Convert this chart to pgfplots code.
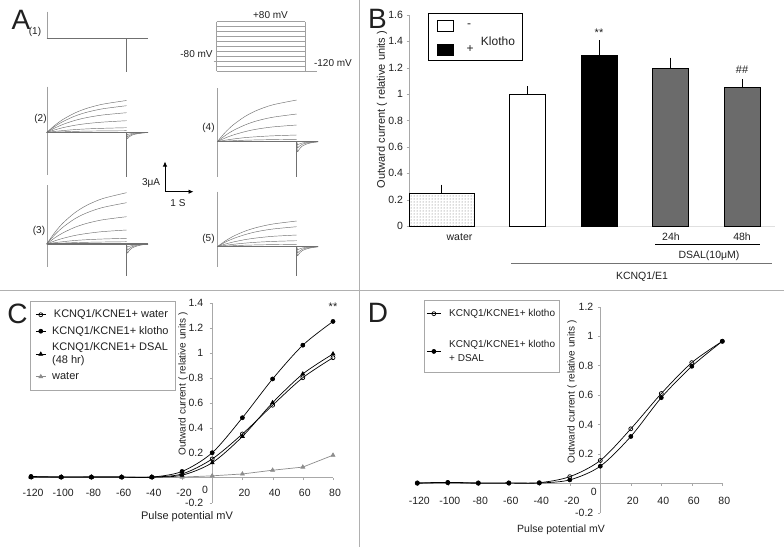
\documentclass[border=0pt]{standalone}
\usepackage{fontspec}
\setmainfont{Liberation Sans}
\usepackage{pgfplots}
\usepackage{pgfplotstable}
\pgfplotsset{compat=1.18}
\usetikzlibrary{patterns,arrows.meta}
\definecolor{tr}{HTML}{707070}
\definecolor{trl}{HTML}{A0A0A0}
\definecolor{divc}{HTML}{B0B0B0}
\definecolor{axg}{HTML}{A8A8A8}
\definecolor{barg}{HTML}{6B6B6B}
\definecolor{txt}{HTML}{202020}
\definecolor{wgray}{HTML}{8C8C8C}
\newcommand{\fs}[2]{\fontsize{#1}{#2}\selectfont}

\pgfplotstableread{
x a b c d e f
46.7 132.5 132.5 132.5 132.5 132.5 132.5
54.7 125.4 126.5 128.1 129.9 131.4 132.1
62.7 119.6 121.7 124.5 127.7 130.6 131.8
74.6 113.1 116.2 120.5 125.3 129.6 131.4
86.6 108.4 112.3 117.6 123.6 128.9 131.1
102.6 104.2 108.8 115.0 122.1 128.3 130.9
126.5 100.5 105.7 112.7 120.7 127.7 130.7
}\Ttwo
\pgfplotstableread{
x a b c d e f
46.7 244 244 244 244 244 244
54.7 232.6 234.8 237.9 240.9 242.7 243.5
62.7 223.3 227.4 233.0 238.4 241.7 243.1
74.6 212.9 218.9 227.4 235.5 240.5 242.6
86.6 205.4 212.9 223.4 233.5 239.7 242.3
102.6 198.6 207.5 219.8 231.6 239.0 242.0
126.5 192.7 202.7 216.7 230.0 238.3 241.7
}\Tthree
\pgfplotstableread{
x a b c d e
217.3 141.7 141.7 141.7 141.7 141.7
225.2 132.4 135.5 138.0 140.2 141.2
233.2 124.9 130.5 135.0 139.0 140.7
245.1 116.4 124.9 131.6 137.6 140.2
257.0 110.3 120.8 129.1 136.7 139.9
272.9 104.8 117.2 126.9 135.8 139.6
296.7 100.0 114.0 125.0 135.0 139.3
}\Tfour
\pgfplotstableread{
x a b c d e
217.3 246.7 246.7 246.7 246.7 246.7
225.2 241.0 242.2 244.1 245.4 246.2
233.2 236.3 238.6 242.0 244.3 245.7
245.1 231.1 234.6 239.6 243.1 245.2
257.0 227.4 231.6 237.9 242.2 244.9
272.9 224.0 229.0 236.3 241.4 244.6
296.7 221.0 226.7 235.0 240.7 244.3
}\Tfive
\pgfplotstableread{
mv water klotho dsal
-120 0.005 0.01 0.005
-100 0.005 0.005 0.005
-80 0.005 0.005 0.005
-60 0.005 0.005 0.005
-40 0.005 0.005 0.005
-20 0.03 0.05 0.02
0 0.15 0.2 0.12
20 0.35 0.48 0.33
40 0.58 0.79 0.6
60 0.8 1.06 0.83
80 0.96 1.25 0.99
}\Cdata
\pgfplotstableread{
mv klotho dsal
-120 0.003 0.0
-100 0.006 0.004
-80 0.003 0.0
-60 0.003 0.001
-40 0.004 0.002
-20 0.045 0.023
0 0.155 0.116
20 0.37 0.318
40 0.61 0.582
60 0.82 0.795
80 0.965 0.965
}\Ddata

\begin{document}
\begin{tikzpicture}
\path[use as bounding box] (0pt,0pt) rectangle (784pt,-547pt);
\fill[white] (0pt,0pt) rectangle (784pt,-547pt);
\draw[divc, line width=1pt] (359pt,0pt) -- (359pt,-547pt);
\draw[divc, line width=1pt] (0pt,-290pt) -- (784pt,-290pt);

% ---------------- Panel A ----------------
\begin{axis}[at={(0pt,0pt)}, anchor=north west, scale only axis,
  width=359pt, height=290pt, xmin=0, xmax=359, ymin=0, ymax=290,
  y dir=reverse, hide axis, clip=false]
% (1)
\addplot[trl, line width=0.4pt] coordinates {(46.7,11.7)(46.7,38.3)};
\addplot[tr, line width=1.3pt] coordinates {(46.7,38.3)(148,38.3)};
\addplot[tr, line width=0.5pt] coordinates {(126.5,38.3)(126.5,71.7)};
% (2)
\addplot[trl, line width=0.4pt] coordinates {(46.7,86.7)(46.7,175)};
\pgfplotsinvokeforeach{a,b,c,d,e,f}{\addplot[tr, line width=0.45pt, smooth] table[x=x,y=#1]{\Ttwo};}
\addplot[tr, line width=1.4pt] coordinates {(46.7,132.5)(148,132.5)};
\addplot[tr, line width=0.5pt] coordinates {(126.5,132.5)(126.5,176.7)};
\addplot[tr, line width=0.45pt, smooth] coordinates {(126.5,132.5)(127.3,138.5)(129,137.0)(132,135.1)(137,133.8)(143,132.9)(148,132.6)};
\addplot[tr, line width=0.45pt, smooth] coordinates {(126.5,132.5)(127.3,136.5)(129,135.6)(132,134.3)(137,133.4)(143,132.8)(148,132.5)};
\addplot[tr, line width=0.45pt, smooth] coordinates {(126.5,132.5)(127.3,134.5)(129,134.1)(132,133.5)(137,133.0)(143,132.7)(148,132.5)};
% (3)
\addplot[trl, line width=0.4pt] coordinates {(46.7,185)(46.7,266.7)};
\pgfplotsinvokeforeach{a,b,c,d,e,f}{\addplot[tr, line width=0.45pt, smooth] table[x=x,y=#1]{\Tthree};}
\addplot[tr, line width=1.4pt] coordinates {(46.7,244)(148,244)};
\addplot[tr, line width=0.5pt] coordinates {(126.5,244)(126.5,276)};
\addplot[tr, line width=0.45pt, smooth] coordinates {(126.5,244)(127.3,253)(129,250.8)(132,248)(137,246)(143,244.7)(148,244.1)};
\addplot[tr, line width=0.45pt, smooth] coordinates {(126.5,244)(127.3,250)(129,248.6)(132,246.8)(137,245.3)(143,244.4)(148,244)};
\addplot[tr, line width=0.45pt, smooth] coordinates {(126.5,244)(127.3,247)(129,246.4)(132,245.5)(137,244.7)(143,244.2)(148,244)};
% (4)
\addplot[trl, line width=0.4pt] coordinates {(217.3,88.3)(217.3,176.7)};
\pgfplotsinvokeforeach{a,b,c,d,e}{\addplot[tr, line width=0.45pt, smooth] table[x=x,y=#1]{\Tfour};}
\addplot[tr, line width=1.4pt] coordinates {(217.3,141.7)(318.3,141.7)};
\addplot[tr, line width=0.5pt] coordinates {(296.7,141.7)(296.7,176.7)};
\addplot[tr, line width=0.45pt, smooth] coordinates {(296.7,141.7)(297.5,151.7)(299.2,149.3)(302.2,146.1)(307.2,143.8)(313.2,142.4)(318.2,141.8)};
\addplot[tr, line width=0.45pt, smooth] coordinates {(296.7,141.7)(297.5,147.7)(299.2,146.3)(302.2,144.3)(307.2,142.9)(313.2,142.1)(318.2,141.7)};
\addplot[tr, line width=0.45pt, smooth] coordinates {(296.7,141.7)(297.5,144.7)(299.2,144.0)(302.2,143.0)(307.2,142.3)(313.2,141.9)(318.2,141.7)};
% (5)
\addplot[trl, line width=0.4pt] coordinates {(217.3,191.7)(217.3,266.7)};
\pgfplotsinvokeforeach{a,b,c,d,e}{\addplot[tr, line width=0.45pt, smooth] table[x=x,y=#1]{\Tfive};}
\addplot[tr, line width=1.4pt] coordinates {(217.3,246.7)(318.3,246.7)};
\addplot[tr, line width=0.5pt] coordinates {(296.7,246.7)(296.7,276)};
\addplot[tr, line width=0.45pt, smooth] coordinates {(296.7,246.7)(297.5,255.7)(299.2,253.5)(302.2,250.7)(307.2,248.7)(313.2,247.4)(318.2,246.8)};
\addplot[tr, line width=0.45pt, smooth] coordinates {(296.7,246.7)(297.5,252.7)(299.2,251.3)(302.2,249.3)(307.2,247.9)(313.2,247.1)(318.2,246.7)};
\addplot[tr, line width=0.45pt, smooth] coordinates {(296.7,246.7)(297.5,249.7)(299.2,249.0)(302.2,248.0)(307.2,247.3)(313.2,246.9)(318.2,246.7)};
% voltage protocol
\pgfplotsinvokeforeach{21.7,26.6,31.6,36.5,41.4,46.4,51.3,56.2,61.1,66.1,71.0}{\addplot[trl, line width=0.5pt] coordinates {(216.7,#1)(305,#1)};}
\addplot[trl, line width=0.5pt] coordinates {(216.7,21.7)(216.7,71)};
\addplot[trl, line width=0.5pt] coordinates {(305,21.7)(305,71)};
\addplot[trl, line width=0.5pt] coordinates {(213.5,61.1)(216.7,61.1)};
\addplot[trl, line width=0.5pt] coordinates {(305,71)(317,71)};
\end{axis}

% ---------------- Panel B ----------------
\begin{axis}[at={(409pt,-226pt)}, anchor=south west, scale only axis,
  width=366pt, height=211.2pt, xmin=409, xmax=775, ymin=0, ymax=1.6, clip=false,
  axis x line*=bottom, axis y line*=left,
  x axis line style={draw=black!12}, y axis line style={draw=axg, line width=0.6pt},
  xtick=\empty, ytick={0,0.2,0.4,0.6,0.8,1,1.2,1.4,1.6},
  yticklabels={0,0.2,0.4,0.6,0.8,1,1.2,1.4,1.6},
  ytick style={draw=axg}, tick align=outside, major tick length=2.5pt,
  yticklabel style={font=\fs{10.5}{12}, text=txt, anchor=east}]
\addplot[ybar, bar width=65pt, bar shift=0pt, draw=black, line width=0.6pt, fill=white,
  postaction={pattern=dots, pattern color=black!60}] coordinates {(441.5,0.25)};
\addplot[ybar, bar width=36pt, bar shift=0pt, draw=black, line width=0.6pt, fill=white] coordinates {(527,1.0)};
\addplot[ybar, bar width=36pt, bar shift=0pt, draw=black, line width=0.6pt, fill=black] coordinates {(599,1.295)};
\addplot[ybar, bar width=36pt, bar shift=0pt, draw=black, line width=0.6pt, fill=barg] coordinates {(670.5,1.197)};
\addplot[ybar, bar width=36pt, bar shift=0pt, draw=black, line width=0.6pt, fill=barg] coordinates {(742,1.048)};
\addplot[draw=none, mark=none, forget plot,
  error bars/.cd, y dir=plus, y explicit,
  error bar style={draw=black, line width=0.6pt},
  error mark options={draw=black, mark size=3pt, line width=0.6pt}]
  coordinates {(441.5,0.25) +- (0,0.04) (527,1.0) +- (0,0.035) (599,1.295) +- (0,0.09)
               (670.5,1.197) +- (0,0.055) (742,1.048) +- (0,0.041)};
\end{axis}

% ---------------- Panel C ----------------
\begin{axis}[at={(28pt,-502.7pt)}, anchor=south west, scale only axis,
  width=305pt, height=200pt, xmin=-122, xmax=80, ymin=-0.2, ymax=1.4, clip=false,
  axis lines*=middle, axis line style={draw=axg, line width=0.6pt},
  xtick={-120,-100,-80,-60,-40,-20,20,40,60,80},
  xticklabels={-120,-100,-80,-60,-40,-20,20,40,60,80},
  ytick={-0.2,0.2,0.4,0.6,0.8,1,1.2,1.4},
  yticklabels={-0.2,0.2,0.4,0.6,0.8,1,1.2,1.4},
  tick style={draw=axg}, tick align=outside, major tick length=2.5pt,
  xticklabel style={font=\fs{10.5}{12}, text=txt, anchor=center, yshift=-13pt, xshift=2pt},
  yticklabel style={font=\fs{10.5}{12}, text=txt, anchor=east, xshift=-3pt},
  legend style={at={(0.007,1.01)}, anchor=north west, draw=axg, line width=0.6pt,
    fill=white, font=\fs{11}{13}, text=txt, cells={anchor=west, align=left},
    inner xsep=5pt, inner ysep=7pt, row sep=3pt, column sep=4pt},
  legend image code/.code={\draw[mark repeat=2, mark phase=2, #1] plot coordinates {(0pt,0pt)(5pt,0pt)(10pt,0pt)};}]
\addplot[wgray, line width=0.7pt, mark=triangle*, mark size=2.2pt, forget plot]
  coordinates {(-40,0.002)(-20,0.005)(0,0.015)(20,0.03)(40,0.06)(60,0.085)(80,0.18)};
\addplot[black, line width=0.7pt, smooth, mark=o, mark size=2pt, mark options={fill=white}] table[x=mv,y=water]{\Cdata};
\addlegendentry{\,KCNQ1/KCNE1+ water}
\addplot[black, line width=0.7pt, smooth, mark=*, mark size=2pt] table[x=mv,y=klotho]{\Cdata};
\addlegendentry{KCNQ1/KCNE1+ klotho}
\addplot[black, line width=0.7pt, smooth, mark=triangle*, mark size=2.2pt] table[x=mv,y=dsal]{\Cdata};
\addlegendentry{KCNQ1/KCNE1+ DSAL\\(48 hr)}
\addlegendimage{wgray, line width=0.7pt, mark=triangle*, mark size=2.2pt}
\addlegendentry{water}
\end{axis}

% ---------------- Panel D ----------------
\begin{axis}[at={(415pt,-512.7pt)}, anchor=south west, scale only axis,
  width=307.3pt, height=206pt, xmin=-121.5, xmax=80, ymin=-0.2, ymax=1.2, clip=false,
  axis lines*=middle, axis line style={draw=axg, line width=0.6pt},
  xtick={-120,-100,-80,-60,-40,-20,20,40,60,80},
  xticklabels={-120,-100,-80,-60,-40,-20,20,40,60,80},
  ytick={-0.2,0.2,0.4,0.6,0.8,1,1.2},
  yticklabels={-0.2,0.2,0.4,0.6,0.8,1,1.2},
  tick style={draw=axg}, tick align=outside, major tick length=2.5pt,
  xticklabel style={font=\fs{10.5}{12}, text=txt, anchor=center, yshift=-15pt, xshift=2pt},
  yticklabel style={font=\fs{10.5}{12}, text=txt, anchor=east, xshift=-1pt},
  legend style={at={(0.030,1.0325)}, anchor=north west, draw=axg, line width=0.6pt,
    fill=white, font=\fs{10}{14}, text=txt, cells={anchor=west, align=left},
    inner xsep=2pt, inner ysep=7pt, row sep=18pt, column sep=6pt},
  legend image code/.code={\draw[mark repeat=2, mark phase=2, #1] plot coordinates {(0pt,0pt)(7pt,0pt)(14pt,0pt)};}]
\addplot[black, line width=0.7pt, smooth, mark=o, mark size=2pt, mark options={fill=white}] table[x=mv,y=klotho]{\Ddata};
\addlegendentry{KCNQ1/KCNE1+ klotho}
\addplot[black, line width=0.7pt, smooth, mark=*, mark size=2pt] table[x=mv,y=dsal]{\Ddata};
\addlegendentry{KCNQ1/KCNE1+ klotho\\+ DSAL}
\end{axis}

% ---------------- Annotations ----------------
\begin{scope}[x=1pt, y=-1pt, every node/.style={text=txt, inner sep=0pt}]
% panel letters
\node[font=\fs{28}{28}] at (21,20) {A};
\node[font=\fs{28}{28}] at (377.5,19) {B};
\node[font=\fs{28}{28}] at (17.5,313.5) {C};
\node[font=\fs{28}{28}] at (378,312.5) {D};
% panel A labels
\node[font=\fs{10}{12}] at (35,32.3) {(1)};
\node[font=\fs{10}{12}] at (40.5,119) {(2)};
\node[font=\fs{10}{12}] at (39,230.7) {(3)};
\node[font=\fs{10}{12}] at (208.5,127.7) {(4)};
\node[font=\fs{10}{12}] at (208.5,239.3) {(5)};
\node[font=\fs{10}{12}] at (270.5,15) {+80 mV};
\node[font=\fs{10}{12}] at (196.5,54) {-80 mV};
\node[font=\fs{10}{12}] at (333,62.7) {-120 mV};
\draw[black, line width=0.8pt, -{Latex[length=5pt,width=4.5pt]}] (165,191.7) -- (165,161.5);
\draw[black, line width=0.8pt, -{Latex[length=5pt,width=4.5pt]}] (165,191.7) -- (193.5,191.7);
\node[font=\fs{10}{12}] at (151,182.7) {3μA};
\node[font=\fs{10}{12}] at (178,203.3) {1 S};
% panel B
\node[font=\fs{11}{13}, rotate=90] at (382,109.5) {Outward current ( relative units )};
\draw[black, line width=0.8pt] (428,13.3) rectangle (522,60.7);
\draw[black, line width=0.6pt, fill=white] (437,20.7) rectangle (453,31.7);
\draw[black, line width=0.6pt, fill=black] (437,44.3) rectangle (453,55);
\node[font=\fs{12}{14}] at (469,26) {-};
\node[font=\fs{12}{14}] at (470,49.5) {+};
\node[font=\fs{12}{14}] at (498,41) {Klotho};
\node[font=\fs{11}{13}] at (599,33) {**};
\node[font=\fs{11}{13}] at (742,70) {\#\#};
\node[font=\fs{10.5}{12}] at (459.5,237) {water};
\node[font=\fs{10.5}{12}] at (671,237) {24h};
\node[font=\fs{10.5}{12}] at (742,237) {48h};
\draw[black, line width=0.6pt] (655,244) -- (760,244);
\node[font=\fs{10.5}{12}] at (709,256) {DSAL(10μM)};
\draw[black!55, line width=1.2pt] (511,263.3) -- (772,263.3);
\node[font=\fs{10.5}{12}] at (642,277) {KCNQ1/E1};
% panel C
\node[font=\fs{10}{12}, rotate=90] at (183,384) {Outward current ( relative units )};
\node[font=\fs{11}{13}] at (187,517) {Pulse potential mV};
\node[font=\fs{10.5}{12}] at (205,490) {0};
\node[font=\fs{11}{13}] at (333,307) {**};
% panel D
\node[font=\fs{10}{12}, rotate=90] at (572,392) {Outward current ( relative units )};
\node[font=\fs{10.5}{12}] at (561,530) {Pulse potential mV};
\node[font=\fs{10.5}{12}] at (593.7,491.7) {0};
\end{scope}
\end{tikzpicture}
\end{document}
